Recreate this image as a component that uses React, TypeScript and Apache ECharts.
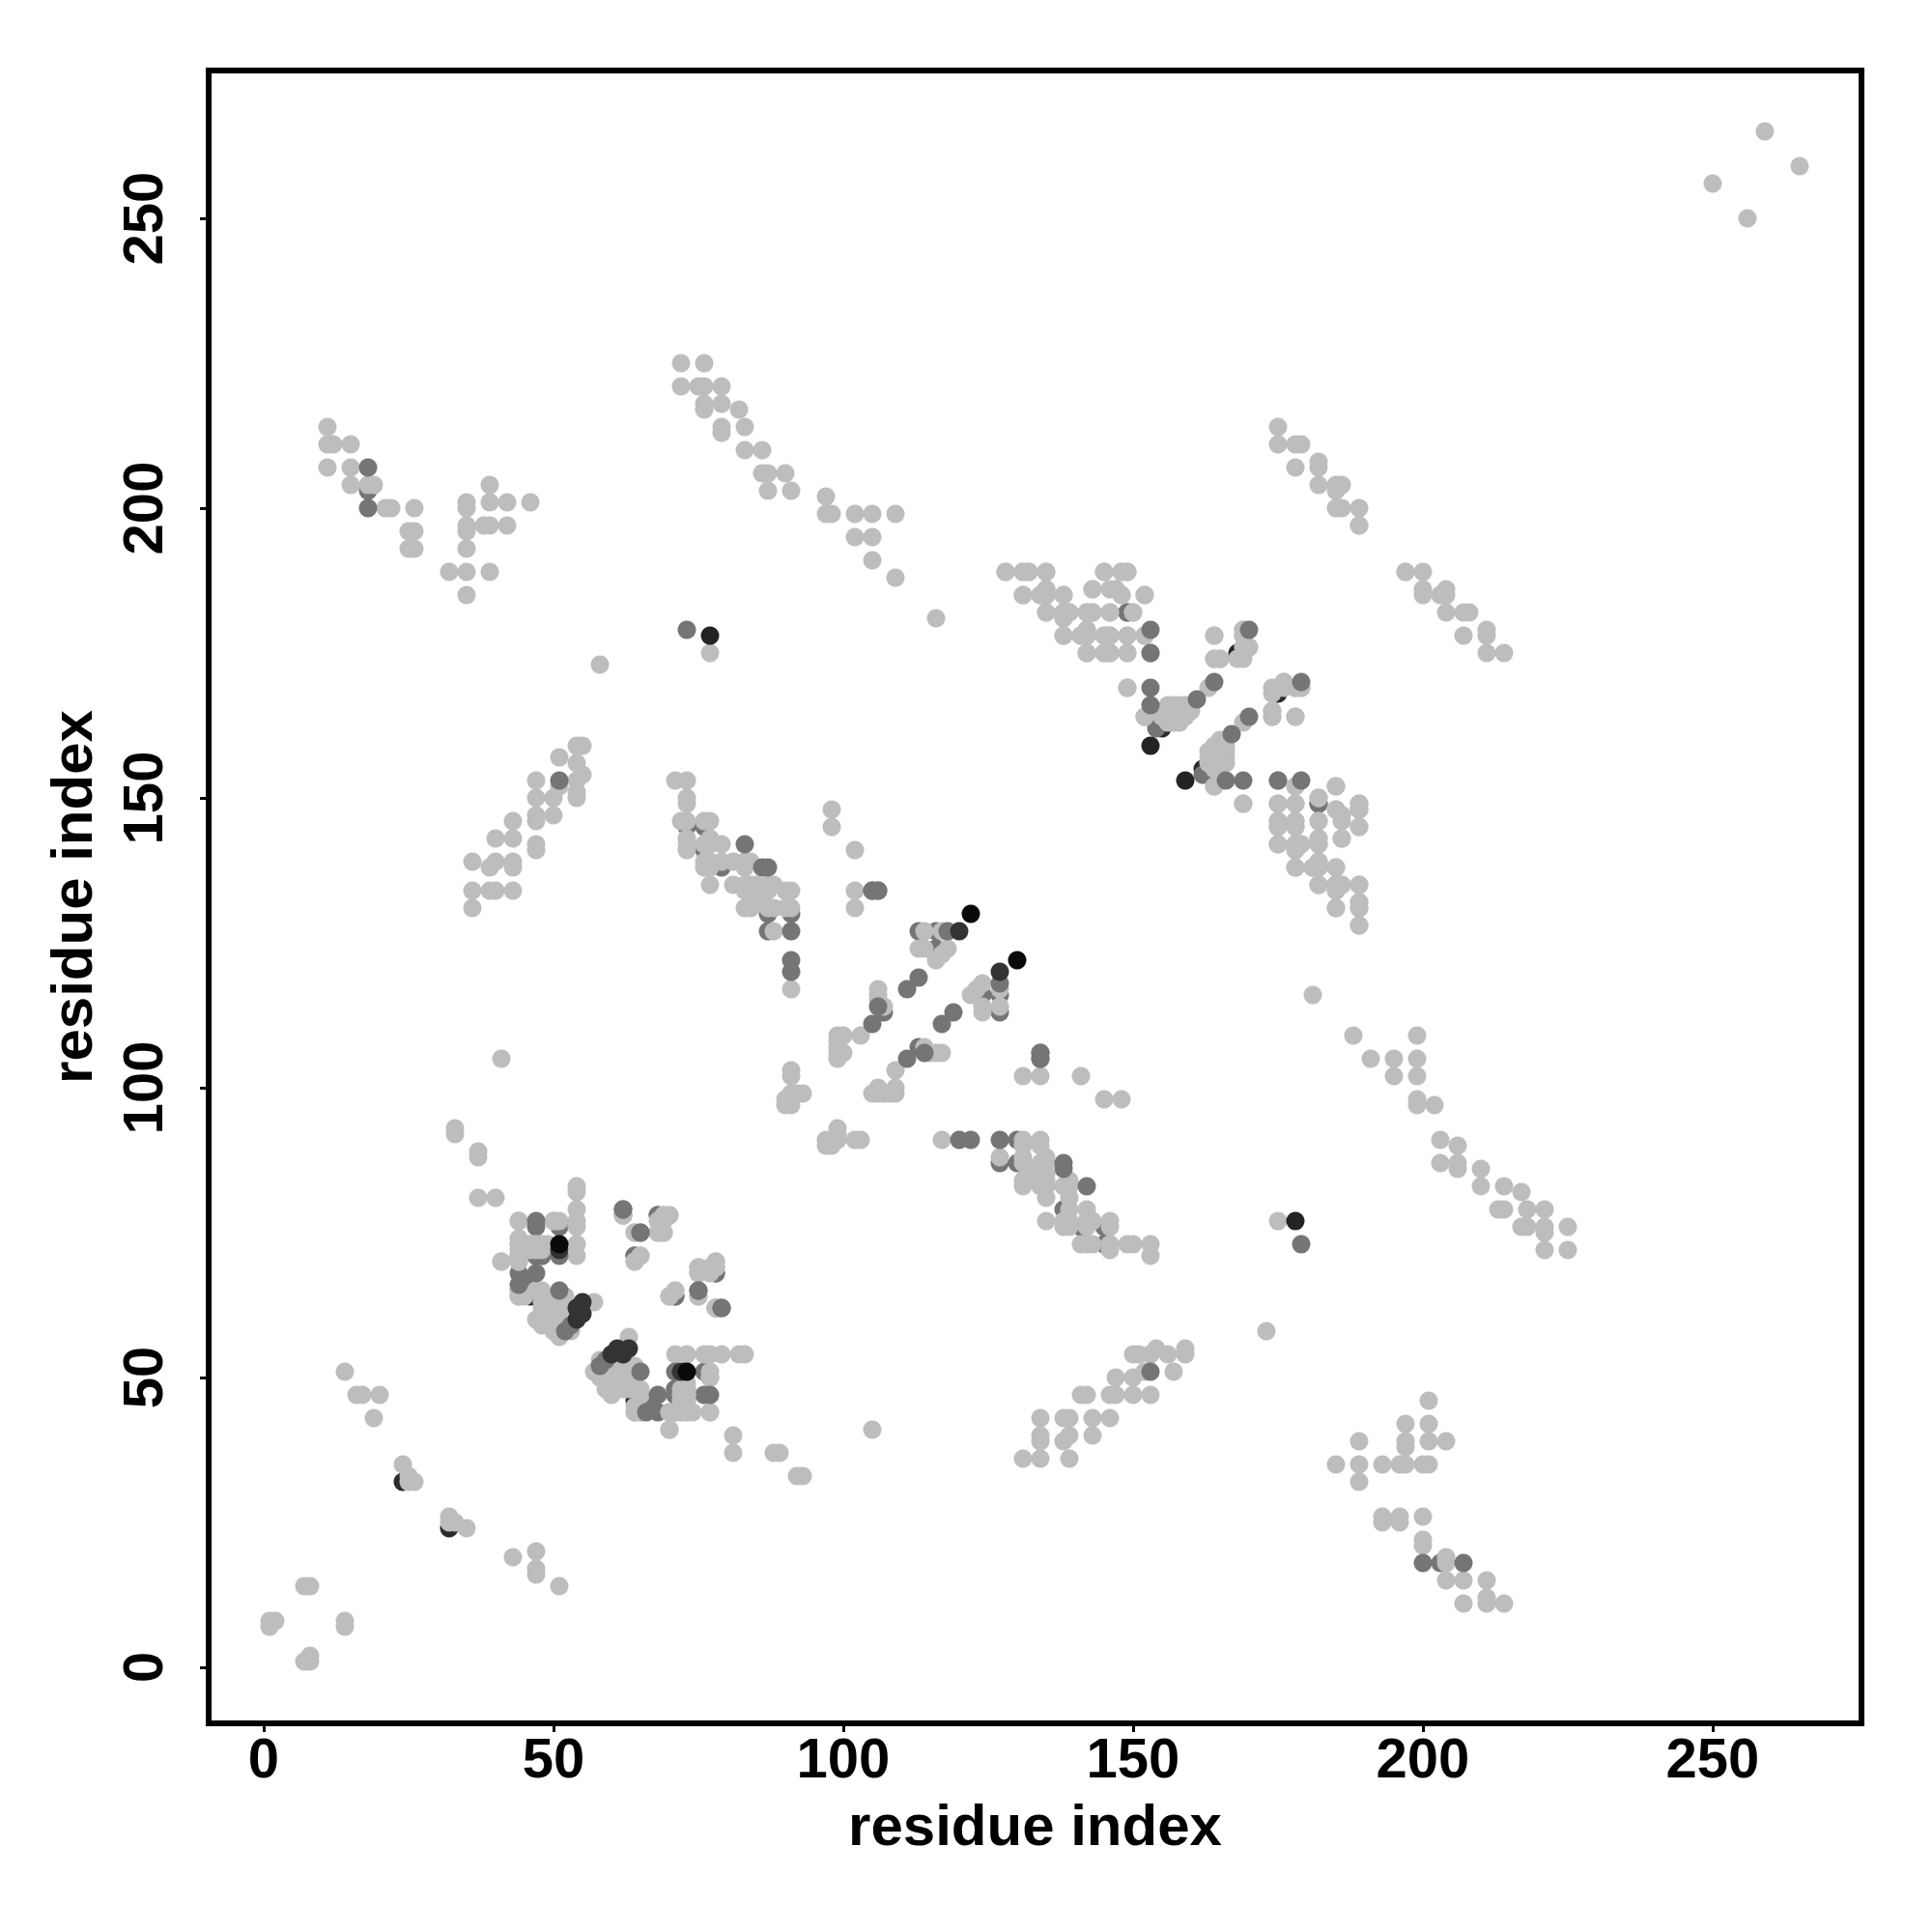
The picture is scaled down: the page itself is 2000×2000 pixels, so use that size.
import React, { useEffect, useRef } from "react";
import * as echarts from "echarts";

type P = number[];
const tickValues = [0, 50, 100, 150, 200, 250];
const axisTitle = "residue index";

const lowDark: P[] = [[24,32],[46,64],[50,59],[51,59],[155,162],[155,163],[168,175]];
const lowMid: P[] = [[18,203],[46,65],[44,68],[47,71],[48,71],[47,76],[51,76],[50,60],[73,145],[76,145],[76,141],[79,138],[86,134],[87,130],[91,130],[87,127],[113,127],[116,127],[116,124],[107,113],[154,162],[135,185],[149,182],[182,149],[62,78],[68,78],[64,71],[71,64],[78,68],[46,66],[71,47],[71,48]];
const light: P[] = [
  [1,8],[2,8],[1,7],[7,14],[8,14],
  [14,51],[16,47],[17,47],[20,47],[19,43],[24,35],[25,32],[26,32],[25,33],[33,92],[33,93],[37,88],[37,89],[37,81],[40,81],[41,70],[41,105],[58,173],[116,181],
  [44,64],[44,65],[44,70],[44,71],[44,72],[44,73],[44,77],[45,64],[45,73],[46,73],[46,72],[47,60],[47,65],[47,72],[47,73],
  [48,59],[48,60],[48,61],[48,62],[48,63],[48,64],[48,65],[48,72],[48,73],[49,61],[49,62],[49,64],[49,73],[49,60],[50,58],[50,61],[50,63],[50,77],
  [51,57],[51,58],[51,60],[51,61],[51,62],[51,63],[51,77],[52,58],[52,62],[52,63],[52,64],[53,58],[53,60],[53,61],
  [54,71],[54,73],[54,76],[54,77],[54,79],[54,82],[54,83],
  [62,78],[69,78],[70,78],[69,77],[68,75],[69,75],[64,75],[64,70],[65,71],[75,69],[75,68],[78,70],[78,69],[77,68],[70,64],[71,65],[75,64],[78,62],
  [44,74],[65,47],[70,44],[71,44],[73,44],[77,44],[64,44],[65,44],[70,41],[73,46],[73,47],[73,48],[77,50],
  [71,153],[73,153],[73,150],[73,149],[72,146],[73,146],[76,146],[77,146],[73,142],[73,143],[76,142],[77,142],[79,142],[76,139],[77,138],[79,139],[81,139],[83,139],[84,139],[83,138],[77,135],[81,135],[83,135],[83,134],[87,135],[87,134],[88,135],[90,134],[91,134],[83,131],[84,131],[85,132],[87,131],[88,131],[90,131],[91,131],[88,127],[91,117],[84,135],[85,135],[86,132],
  [76,138],[77,139],[77,143],[73,141],
  [98,148],[98,145],[102,141],[102,134],[102,131],[114,127],[117,127],[113,124],[114,124],[118,124],[117,123],[116,122],[106,117],[106,116],[106,115],[107,114],[103,109],[99,109],[100,109],[99,108],[99,107],[99,106],[99,105],[100,106],
  [91,103],[91,102],[90,97],[91,97],[90,98],[91,98],[91,99],[92,99],[93,99],
  [128,189],[131,189],[132,189],[135,189],[145,189],[148,189],[149,189],[131,185],[134,185],[135,186],[138,185],[143,186],[146,186],[147,186],[148,185],[152,185],[135,182],[138,182],[139,182],[142,182],[143,182],[146,182],[150,182],[138,181],[138,178],[141,178],[142,179],[142,178],[145,178],[146,178],[149,178],[152,178],[142,175],[145,175],[146,175],[149,175],
  [149,169],[152,164],[155,165],[156,166],[157,166],[158,166],[159,166],[160,165],[156,164],[157,164],[158,164],[159,164],[157,163],[158,163],[156,165],[157,165],[158,165],[159,165],[155,164],[156,163],
  [163,169],[164,178],[164,174],[165,174],[168,174],[169,176],[170,176],[169,175],[169,178],[169,179],
  [175,153],[175,149],[178,149],[178,152],[185,152],[182,150],[185,148],[186,147],[189,149],[189,148],[175,146],[175,145],[178,146],[178,145],[182,146],[189,145],[186,143],[182,143],[175,142],[178,142],[179,142],[178,141],[182,142],[178,138],[181,138],[182,139],[182,138],[185,138],[182,135],[185,135],[186,135],[185,134],[189,135],[185,131],[189,132],[189,131],[189,128],
  [174,169],[175,169],[176,170],[178,169],[179,169],[174,165],[174,164],[178,164],[169,149],[164,152],
  [11,214],[11,211],[12,211],[15,211],[11,207],[15,207],[15,204],[18,204],[19,204],[21,200],[22,200],[26,200],[25,196],[26,196],[25,193],[26,193],[32,189],[35,189],[35,193],[35,196],[35,197],[35,200],[35,201],[35,185],[39,189],[38,197],[39,197],[42,197],[39,201],[42,201],[39,204],[46,201],
  [72,225],[76,225],[72,221],[75,221],[76,221],[76,218],[76,217],[79,221],[79,218],[79,214],[79,213],[82,217],[83,214],[83,210],[86,210],[86,206],[87,206],[90,206],[87,203],[91,203],[97,202],[97,199],[98,199],[102,199],[105,199],[109,199],[102,195],[105,195],[105,191],[109,188],[77,175],
  [36,139],[36,134],[36,131],[39,134],[40,134],[43,134],[39,138],[40,139],[40,143],[43,143],[43,146],[43,139],[43,138],[47,142],[47,141],[47,146],[47,147],[47,150],[47,153],[50,147],[50,150],[51,157],[54,150],[54,151],[54,153],[54,156],[55,159],[54,159],[55,154],[51,152],
  [175,214],[175,211],[178,211],[179,211],[178,207],[182,208],[182,207],[182,204],[185,204],[186,204],[185,200],[186,200],[189,200],[189,197],
  [250,256],[259,265],
  [185,203],[197,189],
];
const topLight: P[] = [[57,63],[156,165]];
const highMid: P[] = [[18,207],[18,200],[51,153],[47,68],[44,66],[47,77],[51,65],[62,79],[65,75],[75,65],[79,62],[53,59],[52,58],[83,142],[86,138],[87,138],[105,134],[106,134],[91,127],[91,122],[91,120],[113,119],[111,117],[105,111],[106,114],[118,127],[134,105],[134,106],[153,179],[153,175],[153,169],[153,166],[161,167],[164,170],[170,179],[73,179],[51,71]];
const dark: P[] = [[54,60],[54,62],[55,61],[55,63],[51,72],[120,127]];
const nearBlack: P[] = [[153,159],[77,178]];
const blackest: P[] = [[51,73],[122,130]];

const mirror = (pts: P[]): P[] => {
  const out: P[] = [];
  for (const [a, b] of pts) {
    out.push([a, b]);
    if (a !== b) out.push([b, a]);
  }
  return out;
};

const layer = (data: P[], color: string) => ({
  type: "scatter",
  data: mirror(data),
  symbol: "circle",
  symbolSize: 19,
  silent: true,
  itemStyle: { color, opacity: 1 },
});

const fontFamily = "'Liberation Sans', Arial, sans-serif";

export default function App() {
  const ref = useRef<HTMLDivElement>(null);
  useEffect(() => {
    const chart = echarts.init(ref.current!, null, { renderer: "svg" });
    const axisCommon = {
      type: "value",
      name: axisTitle,
      nameLocation: "middle",
      nameTextStyle: { fontFamily, fontWeight: "bold", fontSize: 60, color: "#000" },
      splitLine: { show: false },
      axisLine: { show: false, onZero: false },
      axisTick: { show: true, length: 9, customValues: tickValues, lineStyle: { color: "#000", width: 3 } },
    };
    chart.setOption({
      animation: false,
      backgroundColor: "#fff",
      grid: { left: 216, top: 73, width: 1711, height: 1711, show: true, borderColor: "#000", borderWidth: 6, backgroundColor: "transparent" },
      xAxis: {
        ...axisCommon,
        min: -9.5,
        max: 275.67,
        nameGap: 75,
        axisLabel: { customValues: tickValues, fontFamily, fontWeight: "bold", fontSize: 58, color: "#000", margin: 6 },
      },
      yAxis: {
        ...axisCommon,
        min: -9.67,
        max: 275.5,
        nameGap: 112,
        axisLabel: { customValues: tickValues, rotate: 90, fontFamily, fontWeight: "bold", fontSize: 58, color: "#000", margin: 69, verticalAlign: "middle", align: "center" },
      },
      series: [
        layer(lowDark, "#2a2a2a"),
        layer(lowMid, "#757575"),
        layer(light, "#bdbdbd"),
        layer(topLight, "#bdbdbd"),
        layer(highMid, "#757575"),
        layer(dark, "#333333"),
        layer(nearBlack, "#232323"),
        layer(blackest, "#0a0a0a"),
      ],
    });
    return () => chart.dispose();
  }, []);
  return <div ref={ref} style={{ position: "absolute", left: 0, top: 0, width: 2000, height: 2000 }} />;
}
